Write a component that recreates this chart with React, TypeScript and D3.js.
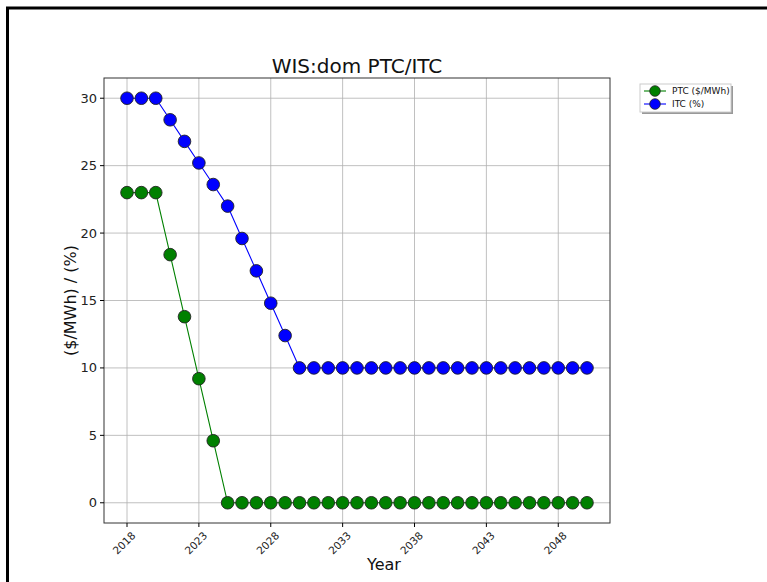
import React from "react";
import * as d3 from "d3";

const years: number[] = d3.range(2018, 2051);
const ptcValues: number[] = [23, 23, 23, 18.4, 13.8, 9.2, 4.6, 0, 0, 0, 0, 0, 0, 0, 0, 0, 0, 0, 0, 0, 0, 0, 0, 0, 0, 0, 0, 0, 0, 0, 0, 0, 0];
const itcValues: number[] = [30, 30, 30, 28.4, 26.8, 25.2, 23.6, 22, 19.6, 17.2, 14.8, 12.4, 10, 10, 10, 10, 10, 10, 10, 10, 10, 10, 10, 10, 10, 10, 10, 10, 10, 10, 10, 10, 10];
const xTicks: number[] = [2018, 2023, 2028, 2033, 2038, 2043, 2048];
const yTicks: number[] = [0, 5, 10, 15, 20, 25, 30];
const seriesNames: string[] = ["PTC ($/MWh)", "ITC (%)"];
const seriesColors: string[] = ["#008000", "#0000ff"];

export default function App() {
  const W = 767, H = 582;
  const left = 104, right = 610, top = 78, bottom = 523;
  const font = "DejaVu Sans, sans-serif";
  const x = d3.scaleLinear().domain([2016.4, 2051.6]).range([left, right]);
  const y = d3.scaleLinear().domain([-1.5, 31.5]).range([bottom, top]);
  const series = [ptcValues, itcValues];
  const line = d3.line<number>().x((_, i) => x(years[i])).y((d) => y(d));

  return (
    <svg width={W} height={H} style={{ position: "absolute", left: 0, top: 0, background: "#fff" }} fontFamily={font}>
      <rect x={0} y={0} width={W} height={H} fill="#fff" />
      <rect x={7.5} y={8} width={900} height={800} fill="none" stroke="#000" strokeWidth={3} />
      {/* grid */}
      {xTicks.map((t) => (
        <line key={"gx" + t} x1={x(t)} x2={x(t)} y1={top} y2={bottom} stroke="#b0b0b0" strokeWidth={0.8} />
      ))}
      {yTicks.map((t) => (
        <line key={"gy" + t} x1={left} x2={right} y1={y(t)} y2={y(t)} stroke="#b0b0b0" strokeWidth={0.8} />
      ))}
      {/* series */}
      {series.map((vals, si) => (
        <g key={"s" + si}>
          <path d={line(vals) || ""} fill="none" stroke={seriesColors[si]} strokeWidth={1.1} />
          {vals.map((v, i) => (
            <circle key={i} cx={x(years[i])} cy={y(v)} r={6.3} fill={seriesColors[si]} stroke="#222" strokeWidth={0.9} />
          ))}
        </g>
      ))}
      {/* frame */}
      <rect x={left} y={top} width={right - left} height={bottom - top} fill="none" stroke="#333" strokeWidth={1} />
      {/* y ticks */}
      {yTicks.map((t) => (
        <g key={"yt" + t}>
          <line x1={left - 4} x2={left} y1={y(t)} y2={y(t)} stroke="#000" strokeWidth={1} />
          <text x={left - 7} y={y(t)} dy="0.35em" textAnchor="end" fontSize={13} fill="#222">{t}</text>
        </g>
      ))}
      {/* x ticks */}
      {xTicks.map((t) => (
        <g key={"xt" + t}>
          <line x1={x(t)} x2={x(t)} y1={bottom} y2={bottom + 4} stroke="#000" strokeWidth={1} />
          <text transform={`translate(${x(t) + 4},${bottom + 8}) rotate(-45)`} textAnchor="end" dy="0.7em" fontSize={10.5} fill="#222">{t}</text>
        </g>
      ))}
      {/* labels */}
      <text x={(left + right) / 2} y={73} textAnchor="middle" fontSize={20} fill="#111">WIS:dom PTC/ITC</text>
      <text x={(left + right) / 2 + 27} y={570} textAnchor="middle" fontSize={16} fill="#111">Year</text>
      <text transform={`translate(76,${(top + bottom) / 2}) rotate(-90)`} textAnchor="middle" fontSize={16} fill="#111">($/MWh) / (%)</text>
      {/* legend */}
      <rect x={642} y={86} width={91} height={28} fill="#999" />
      <rect x={640} y={84} width={91} height={28} fill="#fff" stroke="#ccc" strokeWidth={1} />
      {seriesNames.map((n, i) => (
        <g key={"lg" + i}>
          <line x1={644} x2={666} y1={91 + i * 13} y2={91 + i * 13} stroke={seriesColors[i]} strokeWidth={1.1} />
          <circle cx={655} cy={91 + i * 13} r={5.3} fill={seriesColors[i]} stroke="#222" strokeWidth={0.8} />
          <text x={672} y={91 + i * 13} dy="0.35em" fontSize={9} fill="#111">{n}</text>
        </g>
      ))}
    </svg>
  );
}
